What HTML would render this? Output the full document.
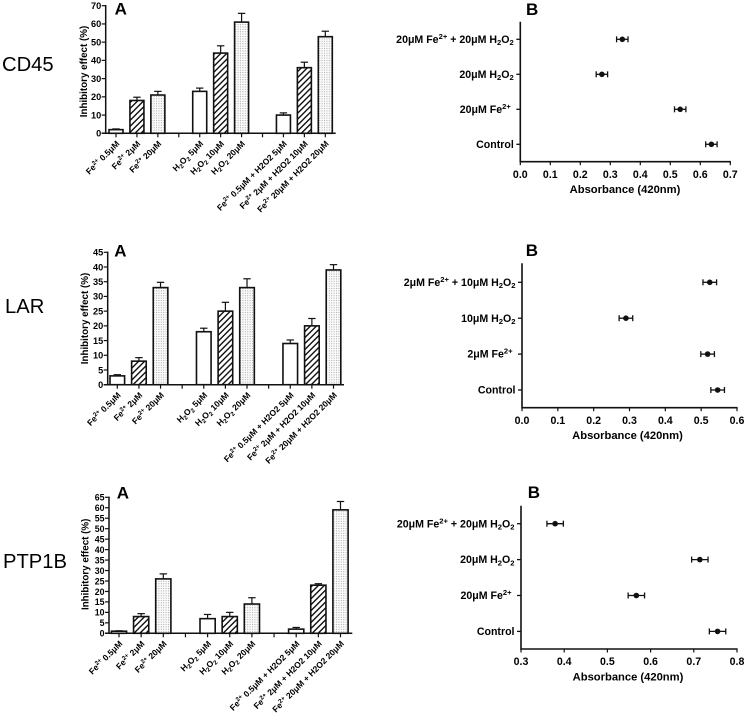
<!DOCTYPE html>
<html>
<head>
<meta charset="utf-8">
<title>Inhibitory effect and absorbance charts</title>
<style>
html,body{margin:0;padding:0;background:#fff;}
svg{display:block;filter:blur(0.38px);}
text{font-family:"Liberation Sans",sans-serif;fill:#000;}
.b{font-weight:bold;}
</style>
</head>
<body>
<svg id="fig" xmlns="http://www.w3.org/2000/svg" width="746" height="721" viewBox="0 0 746 721">
<defs>
<pattern id="hatch" patternUnits="userSpaceOnUse" width="4.2" height="4.2" patternTransform="rotate(45)">
<rect width="4.2" height="4.2" fill="#fff"/><rect width="1.4" height="4.2" fill="#111"/>
</pattern>
<pattern id="dots" patternUnits="userSpaceOnUse" width="2.4" height="2.4">
<rect width="2.4" height="2.4" fill="#fbfbfb"/><rect width="1" height="1" fill="#aaa"/>
</pattern>
</defs>
<text x="2" y="71" font-size="20.2">CD45</text>
<text x="5" y="313" font-size="20.2">LAR</text>
<text x="3" y="568" font-size="20.2">PTP1B</text>
</svg>
<script>
// ----- bar chart data -----
const cd45Categories = ["Fe^{2+} 0.5μM","Fe^{2+} 2μM","Fe^{2+} 20μM","","H_{2}O_{2} 5μM","H_{2}O_{2} 10μM","H_{2}O_{2} 20μM","","Fe^{2+} 0.5μM + H2O2 5μM","Fe^{2+} 2μM + H2O2 10μM","Fe^{2+} 20μM + H2O2 20μM"];
const larCategories = ["Fe^{2+} 0.5μM","Fe^{2+} 2μM","Fe^{2+} 20μM","","H_{2}O_{2} 5μM","H_{2}O_{2} 10μM","H_{2}O_{2} 20μM","","Fe^{2+} 0.5μM + H2O2 5μM","Fe^{2+} 2μM + H2O2 10μM","Fe^{2+} 20μM + H2O2 20μM"];
const ptpCategories = ["Fe^{2+} 0.5μM","Fe^{2+} 2μM","Fe^{2+} 20μM","","H_{2}O_{2} 5μM","H_{2}O_{2} 10μM","H_{2}O_{2} 20μM","","Fe^{2+} 0.5μM + H2O2 5μM","Fe^{2+} 2μM + H2O2 10μM","Fe^{2+} 20μM + H2O2 20μM"];
const cd45Values = [2,18,21,null,23,44,61,null,10,36,53];
const cd45Errors = [0.4,1.8,2,null,1.8,4,4.8,null,1.2,3,3];
const cd45Ticks = [0,10,20,30,40,50,60,70];
const larValues = [3,8,33,null,18,25,33,null,14,20,39];
const larErrors = [0.4,1.2,1.8,null,1.2,3,3,null,1.2,2.5,1.8];
const larTicks = [0,5,10,15,20,25,30,35,40,45];
const ptpValues = [1,8,26,null,7,8,14,null,2,23,59];
const ptpErrors = [0.2,1.4,2.4,null,2,2,3,null,0.8,0.7,4];
const ptpTicks = [0,5,10,15,20,25,30,35,40,45,50,55,60,65];
const barFills = ["#fff","url(#hatch)","url(#dots)"];

// ----- dot chart data -----
const cd45DotLabels = ["20μM Fe^{2+} + 20μM H_{2}O_{2}","20μM H_{2}O_{2}","20μM Fe^{2+} ","Control"];
const cd45DotValues = [0.34,0.272,0.533,0.637];
const cd45DotErrors = [0.019,0.019,0.019,0.019];
const cd45DotTicks = [0,0.1,0.2,0.3,0.4,0.5,0.6,0.7];
const larDotLabels = ["2μM Fe^{2+} + 10μM H_{2}O_{2}","10μM H_{2}O_{2}","2μM Fe^{2+} ","Control"];
const larDotValues = [0.524,0.29,0.518,0.546];
const larDotErrors = [0.019,0.019,0.019,0.019];
const larDotTicks = [0,0.1,0.2,0.3,0.4,0.5,0.6];
const ptpDotLabels = ["20μM Fe^{2+} + 20μM H_{2}O_{2}","20μM H_{2}O_{2}","20μM Fe^{2+} ","Control"];
const ptpDotValues = [0.379,0.714,0.567,0.755];
const ptpDotErrors = [0.019,0.019,0.019,0.019];
const ptpDotTicks = [0.3,0.4,0.5,0.6,0.7,0.8];

const NS = "http://www.w3.org/2000/svg";
const fig = document.getElementById("fig");

function make(tag, attrs, parent) {
  const el = document.createElementNS(NS, tag);
  for (const k in attrs) el.setAttribute(k, attrs[k]);
  (parent || fig).appendChild(el);
  return el;
}

function line(parent, x1, y1, x2, y2, w) {
  const el = make("line", {x1: x1, y1: y1, x2: x2, y2: y2, stroke: "#111", "stroke-width": w}, parent);
  
  
  return el;
}

// Parses "Fe^{2+}" and "H_{2}" into raised / lowered tspans
function richText(el, str, size) {
  const re = /([\^_])\{([^}]*)\}/g;
  let last = 0, m, pending = 0;
  const add = (t, dy, fs) => {
    if (!t) return;
    const s = document.createElementNS(NS, "tspan");
    if (dy) s.setAttribute("dy", dy);
    if (fs) s.setAttribute("font-size", fs);
    s.textContent = t;
    el.appendChild(s);
  };
  while ((m = re.exec(str))) {
    add(str.slice(last, m.index), pending, null);
    const shift = (m[1] === "^" ? -0.38 : 0.22) * size;
    add(m[2], shift, size * 0.72);
    pending = -shift;
    last = m.index + m[0].length;
  }
  add(str.slice(last), pending, null);
}

function drawBars(name, cfg, categories, values, errors, ticks) {
  const g = make("g", {});
  
  
  const yScale = v => cfg.y0 - (v - ticks[0]) * (cfg.y0 - cfg.yTop) / (ticks[ticks.length - 1] - ticks[0]);
  const xScale = i => cfg.x0 + i * cfg.step;

  values.forEach((v, i) => {
    if (v === null) return;
    const cx = xScale(i), top = yScale(v), upper = yScale(v + errors[i]);
    const err = line(g, cx, top, cx, upper, 1.2);
    
    const cap = line(g, cx - 3.7, upper, cx + 3.7, upper, 1.2);
    
    const bar = make("rect", {x: cx - cfg.barW / 2, y: top, width: cfg.barW, height: cfg.y0 - top,
      fill: barFills[i % 4 === 3 ? 0 : (i < 3 ? i : (i < 7 ? i - 4 : i - 8))], stroke: "#111", "stroke-width": 1.6}, g);
    
    
  });

  const yAxis = line(g, cfg.axisX, cfg.y0 + 0.7, cfg.axisX, cfg.yTop - 0.7, 1.5);
  
  const xAxis = line(g, cfg.axisX - 4, cfg.y0, cfg.xEnd, cfg.y0, 1.5);
  

  ticks.forEach(t => {
    const y = yScale(t);
    line(g, cfg.axisX - 4, y, cfg.axisX, y, 1.2);
    const lab = make("text", {x: cfg.axisX - 4.5, y: y + 3.3, "text-anchor": "end", "font-size": cfg.tickSize, class: "b"}, g);
    
    
    lab.textContent = t;
  });

  categories.forEach((c, i) => {
    const cx = xScale(i);
    line(g, cx, cfg.y0, cx, cfg.y0 + 4, 1.2);
    if (!c) return;
    const ax = cx + 4, ay = cfg.y0 + 11;
    const lab = make("text", {x: ax, y: ay, "text-anchor": "end", "font-size": 8.5, class: "b",
      transform: "rotate(-45 " + ax + " " + ay + ")"}, g);
    
    
    richText(lab, c, 8.5);
  });

  const tx = cfg.titleX, ty = (cfg.y0 + cfg.yTop) / 2 + cfg.titleDy;
  const title = make("text", {x: tx, y: ty, "text-anchor": "middle", "font-size": 9.8, class: "b",
    transform: "rotate(-90 " + tx + " " + ty + ")"}, g);
  
  
  title.textContent = "Inhibitory effect (%)";

  const letter = make("text", {x: cfg.letterX, y: cfg.letterY, "font-size": 17, class: "b"}, g);
  
  
  letter.textContent = "A";
}

function drawDots(name, cfg, labels, values, errors, ticks) {
  const g = make("g", {});
  
  
  const lo = ticks[0], hi = ticks[ticks.length - 1];
  const xScale = v => cfg.axisX + (v - lo) * (cfg.xEnd - cfg.axisX) / (hi - lo);
  const yScale = i => cfg.catTop + i * cfg.catStep;

  const yAxis = line(g, cfg.axisX, cfg.yTop, cfg.axisX, cfg.y0 + 0.7, 1.6);
  
  const xAxis = line(g, cfg.axisX, cfg.y0, cfg.xEnd + 0.6, cfg.y0, 1.6);
  

  ticks.forEach(t => {
    const x = xScale(t);
    line(g, x, cfg.y0, x, cfg.y0 + 3.5, 1.2);
    const lab = make("text", {x: x, y: cfg.y0 + 16.2, "text-anchor": "middle", "font-size": 10.6, class: "b"}, g);
    
    
    lab.textContent = t.toFixed(1);
  });

  labels.forEach((c, i) => {
    const y = yScale(i);
    line(g, cfg.axisX - 4, y, cfg.axisX, y, 1.3);
    const lab = make("text", {x: cfg.axisX - 6.5, y: y + 3.6, "text-anchor": "end", "font-size": 10.6, class: "b"}, g);
    
    
    lab.style.whiteSpace = 'pre';
    richText(lab, c, 10.6);
  });

  values.forEach((v, i) => {
    const y = yScale(i), cx = xScale(v), l = xScale(v - errors[i]), r = xScale(v + errors[i]);
    const err = line(g, l, y, r, y, 1.3);
    
    line(g, l, y - 3, l, y + 3, 1.3);
    line(g, r, y - 3, r, y + 3, 1.3);
    const dot = make("circle", {cx: cx, cy: y, r: 2.8, fill: "#111"}, g);
    
    
  });

  const title = make("text", {x: cfg.titleX, y: cfg.y0 + cfg.titleDy, "text-anchor": "middle", "font-size": 11.2, class: "b"}, g);
  
  
  title.textContent = "Absorbance (420nm)";

  const letter = make("text", {x: cfg.letterX, y: cfg.letterY, "font-size": 17, class: "b"}, g);
  
  
  letter.textContent = "B";
}

drawBars("cd45", {axisX:105.7, xEnd:335.7, y0:133.3, yTop:5.7, x0:116, step:20.93, barW:14, tickSize:9.2, titleX:87, titleDy:2, letterX:114.6, letterY:14.7}, cd45Categories, cd45Values, cd45Errors, cd45Ticks);
drawBars("lar", {axisX:107.7, xEnd:344, y0:384.7, yTop:252.3, x0:117.3, step:21.62, barW:14.6, tickSize:9.2, titleX:88, titleDy:0, letterX:114.2, letterY:256.5}, larCategories, larValues, larErrors, larTicks);
drawBars("ptp1b", {axisX:109, xEnd:352.3, y0:633.3, yTop:497.3, x0:119, step:22.15, barW:15.2, tickSize:8.8, titleX:88.5, titleDy:-1, letterX:116.8, letterY:498.7}, ptpCategories, ptpValues, ptpErrors, ptpTicks);

drawDots("cd45", {axisX:520.3, xEnd:730.3, y0:161.7, yTop:21.7, catTop:39.3, catStep:35, titleX:625, titleDy:31.5, letterX:526, letterY:15}, cd45DotLabels, cd45DotValues, cd45DotErrors, cd45DotTicks);
drawDots("lar", {axisX:522, xEnd:737, y0:407.7, yTop:263.3, catTop:282.3, catStep:35.9, titleX:627.5, titleDy:31.5, letterX:525.7, letterY:256}, larDotLabels, larDotValues, larDotErrors, larDotTicks);
drawDots("ptp1b", {axisX:521, xEnd:737, y0:649, yTop:505.7, catTop:523.7, catStep:35.9, titleX:628, titleDy:31.5, letterX:527.7, letterY:498}, ptpDotLabels, ptpDotValues, ptpDotErrors, ptpDotTicks);
</script>
</body>
</html>
